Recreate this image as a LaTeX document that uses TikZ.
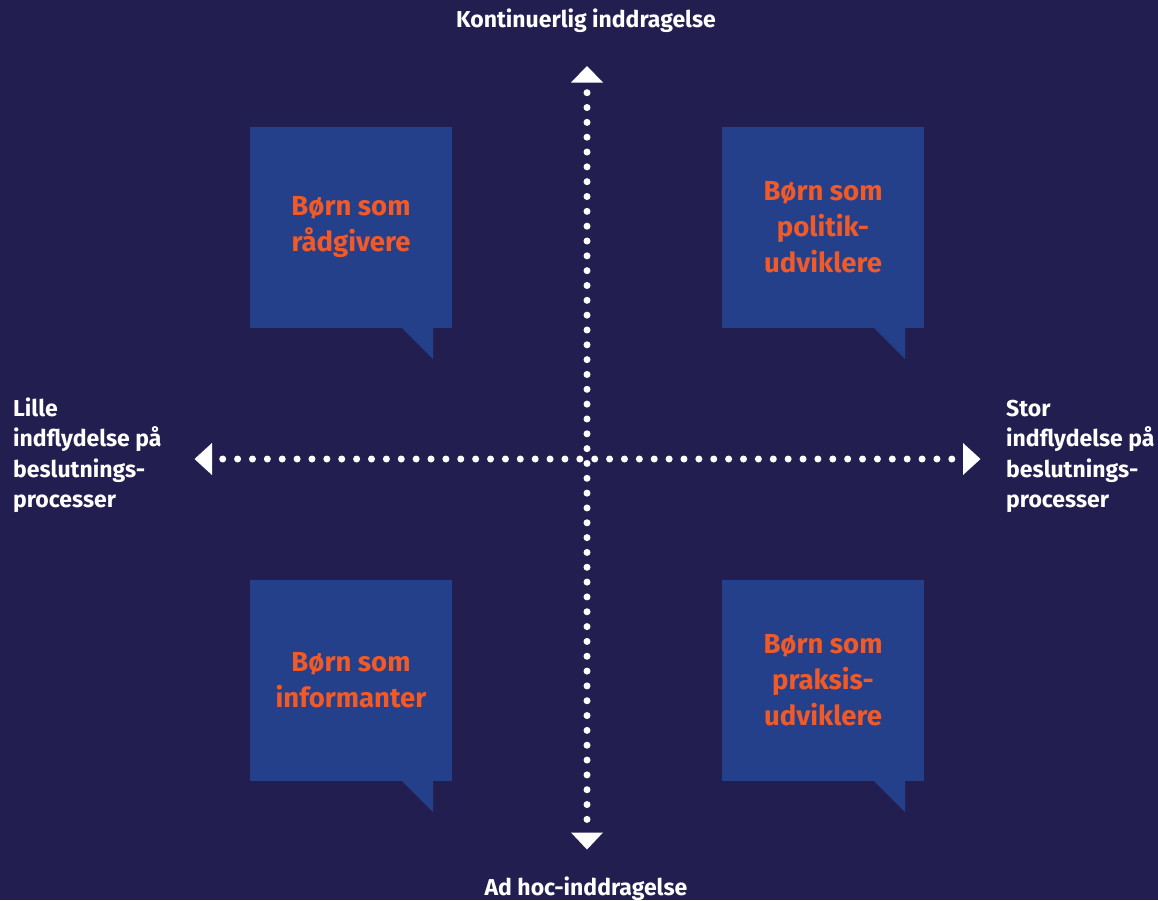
\documentclass[tikz,border=0pt]{standalone}
\usepackage{fontspec}
\setmainfont{Fira Sans}
\definecolor{bgc}{HTML}{221E50}
\definecolor{boxc}{HTML}{25408A}
\definecolor{txtc}{HTML}{F05A28}
\begin{document}
\begin{tikzpicture}[x=1pt,y=-1pt,
  quad/.style={fill=boxc, minimum width=202pt, minimum height=201pt, inner sep=0pt,
    text=txtc, font=\fontsize{27.5}{36}\selectfont\bfseries, align=center},
  axislab/.style={text=white, font=\fontsize{23}{30.5}\selectfont\bfseries, inner sep=0pt},
  vdots/.style={white, line width=7pt, line cap=round, dash pattern=on 0pt off 14.83pt},
  hdots/.style={white, line width=7pt, line cap=round, dash pattern=on 0pt off 14.88pt},
  head/.style={fill=white, draw=none}]
\useasboundingbox[fill=bgc] (0,0) rectangle (1158,900);
% boxes
\node[quad] (tl) at (351,227.5) {Børn som\\rådgivere};
\node[quad] (tr) at (823,227.5) {Børn som\\politik-\\udviklere};
\node[quad] (bl) at (351,680.5) {Børn som\\informanter};
\node[quad] (br) at (823,680.5) {Børn som\\praksis-\\udviklere};
\foreach \b in {tl,tr,bl,br}{
  \fill[boxc] ([xshift=-50pt]\b.south east) -- ([xshift=-19pt]\b.south east) -- ([xshift=-19pt,yshift=-31pt]\b.south east) -- cycle;
}
% axes
\coordinate (vt) at (587,92.7);
\coordinate (vb) at (587,820);
\coordinate (hl) at (222.7,459);
\coordinate (hr) at (953,459);
\draw[vdots] (vt) -- (vb);
\draw[hdots] (hl) -- (hr);
% arrowheads
\fill[head] (587,66) -- (571,82.5) -- (603,82.5) -- cycle;
\fill[head] (587,849.5) -- (571,832.5) -- (603,832.5) -- cycle;
\fill[head] (194.5,459) -- (212,443) -- (212,475) -- cycle;
\fill[head] (980.5,459) -- (963,443) -- (963,475) -- cycle;
% labels
\node[axislab, anchor=base] (top) at (586,27) {Kontinuerlig inddragelse};
\node[axislab, anchor=base] (bot) at (586,895) {Ad hoc-inddragelse};
\node[axislab, anchor=base west, align=left] (left) at (13,507.5) {Lille\\indflydelse på\\beslutnings-\\processer};
\node[axislab, anchor=base west, align=left] (right) at (1006,507.5) {Stor\\indflydelse på\\beslutnings-\\processer};
\end{tikzpicture}
\end{document}
